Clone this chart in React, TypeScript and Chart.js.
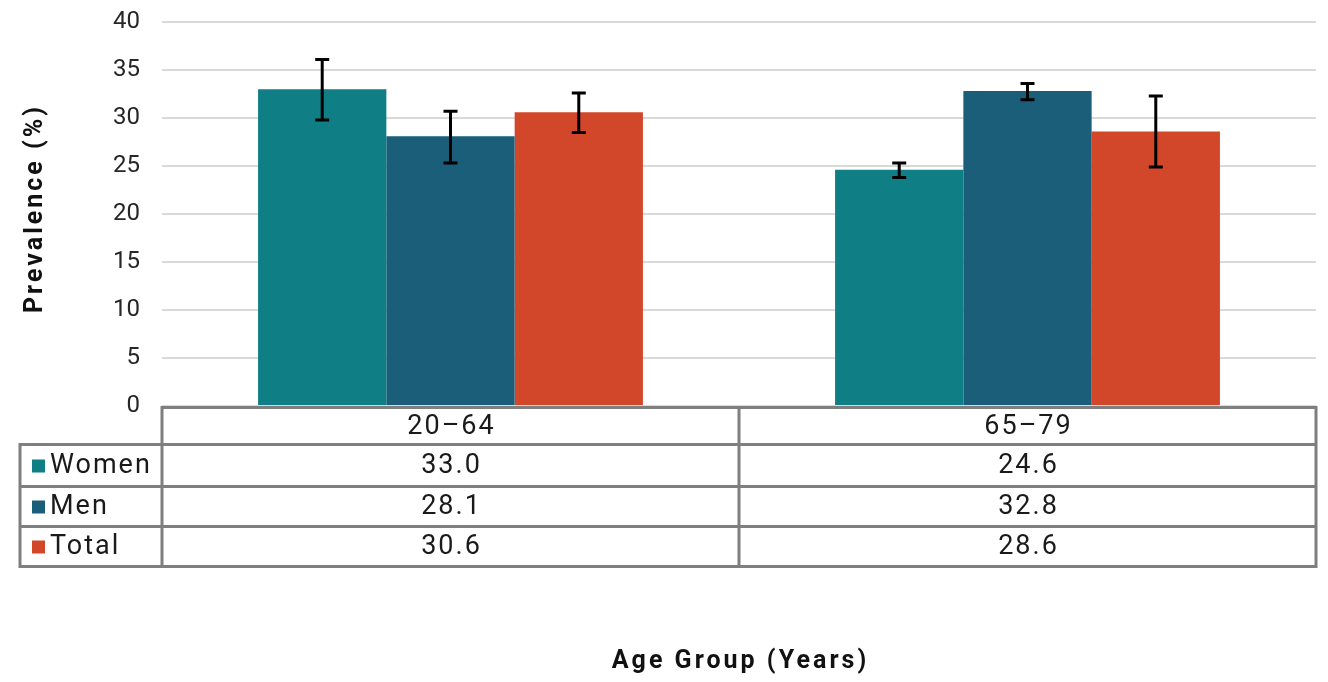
import React, { useEffect, useRef } from 'react';
import { Chart, registerables } from 'chart.js';

Chart.register(...registerables);

const categories = ['20–64', '65–79'];
const seriesNames = ['Women', 'Men', 'Total'];
const seriesColors = ['#0f7f85', '#1a5e7a', '#d2472a'];

const women = [33.0, 24.6];
const men = [28.1, 32.8];
const total = [30.6, 28.6];

const womenLow = [29.8, 23.8];
const womenHigh = [36.1, 25.3];
const menLow = [25.3, 31.9];
const menHigh = [30.7, 33.6];
const totalLow = [28.5, 24.9];
const totalHigh = [32.6, 32.3];

const seriesValues = [women, men, total];
const lows = [womenLow, menLow, totalLow];
const highs = [womenHigh, menHigh, totalHigh];

const yMin = 0;
const yMax = 40;
const yStep = 5;

const yTitle = 'Prevalence (%)';
const xTitle = 'Age Group (Years)';

const FONT = 'Roboto';

const errorBarPlugin = {
  id: 'errorBars',
  afterDatasetsDraw(chart: any) {
    const ctx = chart.ctx;
    const y = chart.scales.y;
    ctx.save();
    ctx.strokeStyle = '#000000';
    ctx.lineWidth = 3;
    ctx.lineCap = 'butt';
    chart.data.datasets.forEach((_ds: any, di: number) => {
      const meta = chart.getDatasetMeta(di);
      meta.data.forEach((el: any, i: number) => {
        const x = el.x;
        const top = y.getPixelForValue(highs[di][i]);
        const bot = y.getPixelForValue(lows[di][i]);
        const cap = 7;
        ctx.beginPath();
        ctx.moveTo(x, top);
        ctx.lineTo(x, bot);
        ctx.moveTo(x - cap, top);
        ctx.lineTo(x + cap, top);
        ctx.moveTo(x - cap, bot);
        ctx.lineTo(x + cap, bot);
        ctx.stroke();
      });
    });
    ctx.restore();
  },
};

const titlesPlugin = {
  id: 'titles',
  afterDraw(chart: any) {
    const ctx = chart.ctx;
    const area = chart.chartArea;
    ctx.save();
    ctx.fillStyle = '#111111';
    ctx.font = `bold 25px ${FONT}`;
    (ctx as any).letterSpacing = '3px';
    ctx.textAlign = 'center';
    ctx.textBaseline = 'middle';
    ctx.fillText(xTitle, (area.left + area.right) / 2 + 1.5, 662);
    ctx.translate(36, (area.top + area.bottom) / 2 - 4);
    ctx.rotate(-Math.PI / 2);
    ctx.fillText(yTitle, 1.5, 0);
    ctx.restore();
  },
};

const dataTablePlugin = {
  id: 'dataTable',
  afterDraw(chart: any) {
    const ctx = chart.ctx;
    const xs = chart.scales.x;
    const area = chart.chartArea;
    const top = area.bottom + 1.5;
    const rowLines = [top, top + 37, top + 79, top + 119, top + 159];
    const leftOuter = 20;
    const left = area.left;
    const right = area.right;
    const centers = categories.map((_c, i) => xs.getPixelForValue(i));
    const dividers: number[] = [];
    for (let i = 0; i < centers.length - 1; i++) dividers.push((centers[i] + centers[i + 1]) / 2);

    ctx.save();
    ctx.strokeStyle = '#7f7f7f';
    ctx.lineWidth = 3;
    ctx.lineCap = 'square';
    ctx.beginPath();
    ctx.moveTo(left, rowLines[0]);
    ctx.lineTo(right, rowLines[0]);
    for (let r = 1; r < rowLines.length; r++) {
      ctx.moveTo(leftOuter, rowLines[r]);
      ctx.lineTo(right, rowLines[r]);
    }
    ctx.moveTo(leftOuter, rowLines[1]);
    ctx.lineTo(leftOuter, rowLines[rowLines.length - 1]);
    ctx.moveTo(left, rowLines[0]);
    ctx.lineTo(left, rowLines[rowLines.length - 1]);
    dividers.forEach((d) => {
      ctx.moveTo(d, rowLines[0]);
      ctx.lineTo(d, rowLines[rowLines.length - 1]);
    });
    ctx.moveTo(right, rowLines[0]);
    ctx.lineTo(right, rowLines[rowLines.length - 1]);
    ctx.stroke();

    ctx.fillStyle = '#1a1a1a';
    ctx.font = `27px ${FONT}`;
    (ctx as any).letterSpacing = '2px';
    ctx.textBaseline = 'middle';
    ctx.textAlign = 'center';
    categories.forEach((c, i) => {
      ctx.fillText(c, centers[i] + 1, (rowLines[0] + rowLines[1]) / 2 + 1);
    });
    seriesValues.forEach((vals, si) => {
      const cy = (rowLines[si + 1] + rowLines[si + 2]) / 2 + 1;
      ctx.textAlign = 'center';
      ctx.fillStyle = '#1a1a1a';
      vals.forEach((v, i) => {
        ctx.fillText(v.toFixed(1), centers[i] + 1, cy);
      });
      ctx.fillStyle = seriesColors[si];
      ctx.fillRect(32, cy - 7, 13, 13);
      ctx.fillStyle = '#1a1a1a';
      ctx.textAlign = 'left';
      ctx.fillText(seriesNames[si], 50, cy);
    });
    ctx.restore();
  },
};

export default function App() {
  const ref = useRef<HTMLCanvasElement>(null);
  useEffect(() => {
    const chart = new Chart(ref.current as HTMLCanvasElement, {
      type: 'bar',
      data: {
        labels: categories,
        datasets: seriesNames.map((name, i) => ({
          label: name,
          data: seriesValues[i],
          backgroundColor: seriesColors[i],
          borderWidth: 0,
          categoryPercentage: 0.667,
          barPercentage: 1,
        })),
      },
      options: {
        responsive: false,
        animation: false,
        layout: { padding: { left: 0, right: 12, top: 22, bottom: 0 } },
        plugins: {
          legend: { display: false },
          tooltip: { enabled: false },
        },
        scales: {
          x: {
            grid: { display: false },
            border: { display: false },
            ticks: { display: false },
            afterFit(scale: any) {
              scale.height = 276;
            },
          },
          y: {
            min: yMin,
            max: yMax,
            ticks: {
              stepSize: yStep,
              padding: 22,
              color: '#262626',
              font: { family: FONT, size: 24 },
            },
            grid: { color: '#d9d9d9', lineWidth: 2, drawTicks: false },
            border: { display: false },
            afterFit(scale: any) {
              scale.width = 162;
              scale.paddingTop = 0;
              scale.paddingBottom = 0;
            },
          },
        },
      },
      plugins: [errorBarPlugin, dataTablePlugin, titlesPlugin],
    });
    return () => chart.destroy();
  }, []);
  return (
    <div style={{ position: 'absolute', left: 0, top: 0, width: 1328, height: 682, background: '#ffffff' }}>
      <canvas ref={ref} width={1328} height={682} style={{ display: 'block' }} />
    </div>
  );
}
